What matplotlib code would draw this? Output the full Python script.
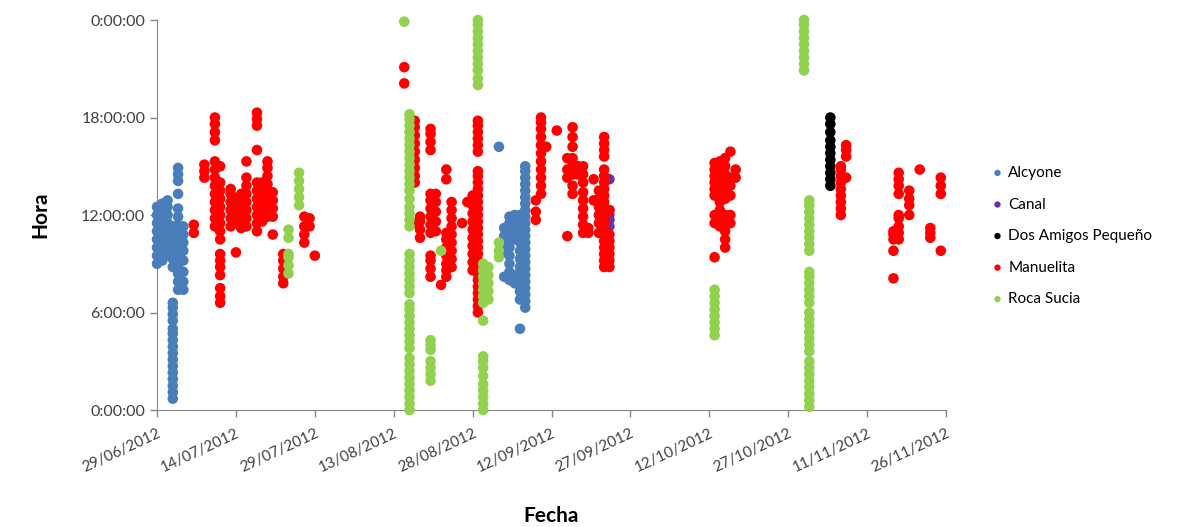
import numpy as np
import pandas as pd
import matplotlib
matplotlib.use("Agg")
import matplotlib.pyplot as plt
import matplotlib.dates as mdates
from matplotlib.ticker import FixedLocator

plt.rcParams['font.family'] = ['Lato', 'DejaVu Sans']

# registros por día: (fecha, horas del día en que hubo detección)
alcyone = [
    ("29/06/2012", [9.0, 9.5, 10.0, 10.5, 11.0, 11.5, 12.0, 12.5]),
    ("30/06/2012", [9.2, 9.7, 10.2, 10.7, 11.2, 11.7, 12.2, 12.7]),
    ("01/07/2012", [9.5, 10.0, 10.5, 11.0, 11.5, 12.0, 12.5, 12.9]),
    ("02/07/2012", [0.7, 1.1, 1.5, 1.9, 2.3, 2.7, 3.1, 3.5, 3.9, 4.3, 4.7, 5.0, 5.5, 5.9, 6.3, 6.6,
                    8.8, 9.3, 9.8, 10.3, 10.8, 11.3]),
    ("03/07/2012", [7.4, 7.9, 8.4, 8.9, 9.4, 9.9, 10.4, 10.9, 11.4, 11.9, 12.4,
                    13.3, 14.1, 14.5, 14.9]),
    ("04/07/2012", [7.4, 7.9, 8.5, 9.2, 9.8, 10.3, 10.8, 11.3]),
    ("02/09/2012", [16.2]),
    ("03/09/2012", [8.2, 9.7, 10.2, 10.7, 11.2]),
    ("04/09/2012", [8.0, 8.5, 9.0, 9.5, 10.0, 10.5, 11.0, 11.5, 11.9]),
    ("05/09/2012", [7.8, 8.3, 10.5, 11.0, 11.5, 12.0]),
    ("06/09/2012", [5.0, 6.8, 7.3, 7.8, 8.3, 8.8, 9.3, 9.8, 10.3, 10.8, 11.4, 12.0]),
    ("07/09/2012", [6.3, 6.7, 7.1, 7.5, 7.9, 8.3, 8.7, 9.1, 9.5, 9.9, 10.3, 10.7, 11.1, 11.5,
                    11.9, 12.3, 12.7, 13.1, 13.5, 13.9, 14.3, 14.7, 15.0]),
]

canal = [
    ("23/09/2012", [11.3, 11.7, 12.0, 12.3, 14.2]),
]

dos_amigos = [
    ("04/11/2012", [13.8, 14.2, 14.6, 15.0, 15.4, 15.8, 16.2, 16.6, 17.1, 17.6, 18.0]),
]

manuelita = [
    ("06/07/2012", [10.9, 11.4]),
    ("08/07/2012", [14.3, 14.7, 15.1]),
    ("10/07/2012", [11.3, 11.8, 12.3, 12.8, 13.3, 13.8, 14.3, 14.8, 15.3, 16.6, 17.1, 17.6, 18.0]),
    ("11/07/2012", [6.6, 7.0, 7.5, 8.3, 8.8, 9.2, 9.6, 10.5, 11.0, 11.5, 12.0, 12.5, 13.0,
                    13.5, 14.0, 15.0]),
    ("13/07/2012", [11.3, 11.8, 12.3, 12.8, 13.3, 13.6]),
    ("14/07/2012", [9.7, 11.5, 12.0, 12.5, 13.0]),
    ("15/07/2012", [11.2, 11.7, 12.2, 12.7, 13.3]),
    ("16/07/2012", [11.3, 11.8, 12.3, 12.8, 13.3, 13.8, 14.3, 15.3]),
    ("18/07/2012", [11.0, 11.5, 12.0, 12.5, 13.0, 13.5, 14.0, 16.0, 17.5, 17.9, 18.3]),
    ("19/07/2012", [11.6, 12.2, 12.8, 13.4, 14.0]),
    ("20/07/2012", [11.9, 12.4, 12.9, 13.4, 13.9, 14.4, 14.9, 15.3]),
    ("21/07/2012", [10.8, 11.9, 12.4, 12.9, 13.4]),
    ("23/07/2012", [7.8, 8.2, 8.7, 9.2, 9.6]),
    ("27/07/2012", [10.3, 10.8, 11.3, 11.9]),
    ("28/07/2012", [11.3, 11.8]),
    ("29/07/2012", [9.5]),
    ("15/08/2012", [20.1, 21.1]),
    ("17/08/2012", [11.5, 14.0, 14.4, 14.9, 15.4, 15.9, 16.4, 16.9, 17.4, 17.8]),
    ("18/08/2012", [10.6, 11.1, 11.6, 11.9]),
    ("20/08/2012", [8.2, 8.7, 9.2, 9.5, 10.9, 11.4, 11.9, 12.4, 12.9, 13.3, 16.0, 16.5, 17.0, 17.3]),
    ("21/08/2012", [11.0, 11.6, 12.2, 12.8, 13.3]),
    ("22/08/2012", [7.7]),
    ("23/08/2012", [8.2, 8.6, 9.0, 9.5, 10.0, 10.5, 10.9, 14.2, 14.8]),
    ("24/08/2012", [8.8, 9.3, 9.8, 10.3, 10.8, 11.3, 11.8, 12.3, 12.8]),
    ("26/08/2012", [11.5]),
    ("27/08/2012", [12.8]),
    ("28/08/2012", [8.6, 9.1, 9.6, 10.1, 10.6, 11.1, 11.6, 12.1, 12.6, 13.2]),
    ("29/08/2012", [6.0, 6.4, 6.8, 7.2, 7.6, 8.0, 8.4, 8.8, 9.2, 9.6, 10.0, 10.4, 10.8, 11.2,
                    11.6, 12.0, 12.4, 12.8, 13.2, 13.6, 14.0, 14.4, 14.7, 15.9, 16.3, 16.7,
                    17.1, 17.5, 17.8]),
    ("30/08/2012", [7.0, 8.2]),
    ("09/09/2012", [11.7, 12.2, 12.9]),
    ("10/09/2012", [13.3, 13.8, 14.3, 14.8, 15.3, 15.8, 16.3, 16.8, 17.3, 17.7, 18.0]),
    ("11/09/2012", [16.2]),
    ("13/09/2012", [17.2]),
    ("15/09/2012", [10.7, 14.3, 14.8, 15.5]),
    ("16/09/2012", [13.3, 13.8, 14.5, 15.0, 15.5, 16.2, 16.8, 17.4]),
    ("17/09/2012", [14.5, 15.0]),
    ("18/09/2012", [10.9, 11.4, 11.9, 12.4, 12.9, 13.4, 14.0, 14.5, 15.0]),
    ("19/09/2012", [10.9, 11.2]),
    ("20/09/2012", [12.9, 14.2]),
    ("21/09/2012", [10.9, 11.5, 12.0, 12.5, 13.0, 13.5]),
    ("22/09/2012", [8.8, 9.2, 9.6, 10.0, 10.4, 10.8, 11.2, 11.6, 12.0, 12.4, 12.8, 13.2,
                    13.6, 14.0, 14.4, 14.8, 15.6, 16.0, 16.4, 16.8]),
    ("23/09/2012", [8.8, 9.2, 9.6, 10.0, 10.4, 10.8, 12.3]),
    ("13/10/2012", [9.4, 11.5, 12.0, 13.2, 13.6, 14.0, 14.4, 14.8, 15.2]),
    ("14/10/2012", [11.3, 11.8, 12.3, 12.8, 13.3, 13.8, 14.3, 14.8, 15.3]),
    ("15/10/2012", [10.0, 10.5, 11.0, 11.5, 12.0, 13.0, 13.5, 14.0, 14.5, 15.0, 15.5]),
    ("16/10/2012", [11.5, 12.0, 13.2, 13.8, 14.3, 15.9]),
    ("17/10/2012", [14.3, 14.8]),
    ("06/11/2012", [12.0, 12.4, 12.8, 13.2, 13.6, 14.0, 14.4, 14.8, 15.0]),
    ("07/11/2012", [14.3, 15.6, 16.0, 16.3]),
    ("16/11/2012", [8.1, 9.8, 10.5, 10.8, 11.0]),
    ("17/11/2012", [10.5, 10.9, 11.3, 11.8, 12.0, 13.3, 13.8, 14.2, 14.6]),
    ("19/11/2012", [12.0, 12.6, 13.0, 13.5]),
    ("21/11/2012", [14.8]),
    ("23/11/2012", [10.6, 10.9, 11.2]),
    ("25/11/2012", [9.8, 13.3, 13.8, 14.3]),
]

roca_sucia = [
    ("24/07/2012", [8.4, 8.9, 9.4, 9.6, 10.6, 11.1]),
    ("26/07/2012", [12.6, 13.1, 13.6, 14.1, 14.6]),
    ("15/08/2012", [23.9]),
    ("16/08/2012", [0.0, 0.4, 0.8, 1.2, 1.6, 2.0, 2.4, 2.8, 3.2, 3.8, 4.2, 4.6, 5.0, 5.4,
                    5.8, 6.2, 6.5, 7.2, 7.6, 8.0, 8.4, 8.8, 9.2, 9.6, 11.3, 11.7, 12.1,
                    12.5, 13.0, 13.5, 13.9, 14.3, 14.7, 15.1, 15.5, 15.9, 16.3, 16.7,
                    17.1, 17.5, 17.9, 18.2]),
    ("20/08/2012", [1.8, 2.2, 2.6, 3.0, 3.7, 4.0, 4.3]),
    ("22/08/2012", [9.8]),
    ("29/08/2012", [20.0, 20.4, 20.9, 21.3, 21.7, 22.1, 22.5, 22.9, 23.3, 23.7, 24.0]),
    ("30/08/2012", [0.0, 0.4, 0.8, 1.2, 1.6, 2.1, 2.6, 3.0, 3.3, 5.5, 6.6, 7.0, 7.4,
                    7.8, 8.2, 8.6, 9.0]),
    ("31/08/2012", [6.8, 7.3, 7.8, 8.3, 8.8]),
    ("02/09/2012", [9.4, 9.8, 10.3]),
    ("13/10/2012", [4.6, 5.0, 5.4, 5.8, 6.2, 6.6, 7.0, 7.4]),
    ("30/10/2012", [20.9, 21.3, 21.7, 22.1, 22.5, 22.9, 23.3, 23.7, 24.0]),
    ("31/10/2012", [0.2, 0.6, 1.0, 1.4, 1.8, 2.2, 2.6, 3.0, 3.6, 4.0, 4.4, 4.8, 5.2,
                    5.6, 6.0, 6.6, 7.0, 7.4, 7.8, 8.2, 8.5, 9.8, 10.2, 10.6, 11.0,
                    11.4, 11.8, 12.2, 12.6, 12.9]),
]

series = [
    ("Alcyone", alcyone, "#4A7EBB"),
    ("Canal", canal, "#7030A0"),
    ("Dos Amigos Pequeño", dos_amigos, "#000000"),
    ("Manuelita", manuelita, "#FF0000"),
    ("Roca Sucia", roca_sucia, "#92D050"),
]


def to_xy(records):
    xs, ys = [], []
    for fecha, horas in records:
        d = pd.to_datetime(fecha, dayfirst=True)
        xs += [d] * len(horas)
        ys += horas
    return xs, ys


fig = plt.figure(figsize=(11.78, 5.27), dpi=100)
ax = fig.add_axes([0.1333, 0.222, 0.6698, 0.740])

for nombre, datos, color in series:
    x, y = to_xy(datos)
    ax.scatter(x, y, s=58, color=color, edgecolors='none', label=nombre,
               clip_on=False, zorder=3)

inicio = pd.Timestamp("2012-06-29")
fin = pd.Timestamp("2012-11-26")
ax.set_xlim(inicio, fin)
ax.set_ylim(0, 24)

ticks_x = pd.date_range(inicio, fin, freq="15D")
ax.xaxis.set_major_locator(FixedLocator(mdates.date2num(ticks_x)))
ax.xaxis.set_major_formatter(mdates.DateFormatter("%d/%m/%Y"))
ax.set_yticks([0, 6, 12, 18, 24])
ax.set_yticklabels(["0:00:00", "6:00:00", "12:00:00", "18:00:00", "0:00:00"])

ax.tick_params(axis='both', colors='#868686', labelcolor='#404040', labelsize=11.5,
               length=5, width=1)
ax.tick_params(axis='x', pad=7)
for lab in ax.get_xticklabels():
    lab.set_rotation(25)
    lab.set_ha("right")
    lab.set_va("top")
    lab.set_rotation_mode("anchor")
    lab.set_fontsize(11)

for side in ["top", "right"]:
    ax.spines[side].set_visible(False)
for side in ["left", "bottom"]:
    ax.spines[side].set_color('#868686')

ax.set_xlabel("Fecha", fontsize=15, fontweight='bold', labelpad=22)
ax.set_ylabel("Hora", fontsize=15, fontweight='bold', labelpad=22)

ax.legend(loc='center left', bbox_to_anchor=(1.04, 0.446), frameon=False,
          fontsize=11, markerscale=0.6, handlelength=0.8, handletextpad=0.3,
          labelspacing=1.15, scatterpoints=1)

fig.savefig("out.png", dpi=100)
